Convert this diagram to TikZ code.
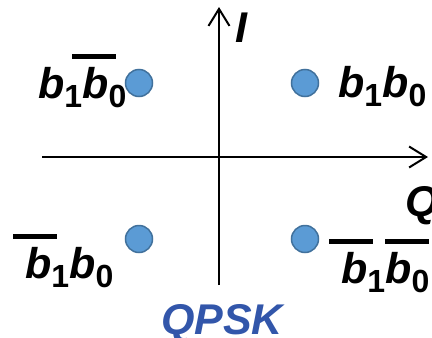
\documentclass[tikz,border=0pt]{standalone}
\usepackage{fontspec}
\setmainfont{Liberation Sans}
\usetikzlibrary{arrows.meta}
\definecolor{dotblue}{RGB}{91,155,213}
\definecolor{dotedge}{RGB}{65,113,156}
\definecolor{qpskblue}{RGB}{50,86,170}
\newsavebox{\barbox}
\newcommand{\subidx}[1]{\raisebox{-9pt}{\fontsize{32}{32}\selectfont\upshape #1}}
\newcommand{\ovbar}[2][0pt]{\sbox{\barbox}{#2}\leavevmode
  \rlap{\kern#1\raise\dimexpr\ht\barbox+8pt\relax\hbox{\vrule width\wd\barbox height 5pt depth 0pt}}%
  \usebox{\barbox}}

\begin{document}
\begin{tikzpicture}[
  x=1pt, y=-1pt,
  axis/.style={line width=2pt, -{Straight Barb[length=17pt,width=21pt,line width=2pt]}},
  symdot/.style={circle, draw=dotedge, fill=dotblue, line width=1.5pt,
                 minimum size=27pt, inner sep=0pt},
  bits/.style={font=\fontsize{43}{50}\selectfont\bfseries\itshape,
               inner sep=0pt, anchor=base west},
  axlabel/.style={bits},
  title/.style={font=\fontsize{43}{50}\selectfont\bfseries\itshape,
                text=qpskblue, inner sep=0pt, anchor=base}
]
  \useasboundingbox (0,0) rectangle (432,338);

  % --- axes ---
  \coordinate (qstart) at (42,157);
  \coordinate (qend)   at (428,157);
  \coordinate (ibot)   at (219,285);
  \coordinate (itop)   at (219,7);
  \draw[axis] (qstart) -- (qend);
  \draw[axis] (ibot) -- (itop);
  \node[axlabel] (ilabel) at (235,42)  {I};
  \node[axlabel] (qlabel) at (405,216) {Q};

  % --- constellation points ---
  \node[symdot] (s11) at (305,83)  {};
  \node[symdot] (s10) at (139,83)  {};
  \node[symdot] (s01) at (139,239) {};
  \node[symdot] (s00) at (305,239) {};

  % --- bit labels ---
  \node[bits] (l11) at (338,97)  {b\subidx{1}b\subidx{0}};
  \node[bits] (l10) at (38,98)   {b\subidx{1}\ovbar[-10pt]{b\subidx{0}}};
  \node[bits] (l01) at (25,278)  {\ovbar[-12pt]{b\subidx{1}}b\subidx{0}};
  \node[bits] (l00) at (341,283) {\ovbar[-12pt]{b\subidx{1}}\ovbar{b\subidx{0}}};

  \node[title] (qpsk) at (222,334) {QPSK};
\end{tikzpicture}
\end{document}
